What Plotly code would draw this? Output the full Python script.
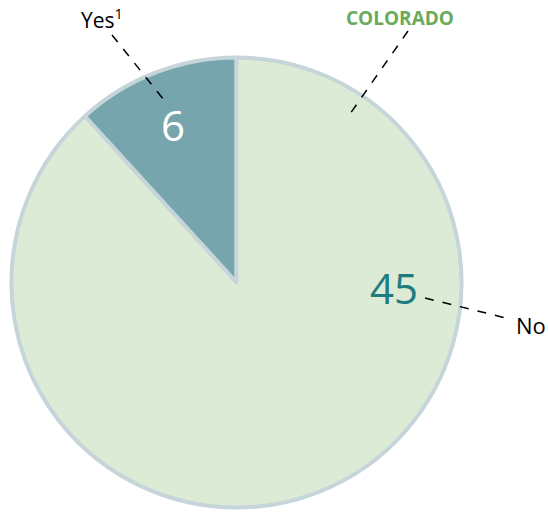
import plotly.graph_objects as go

labels = ["Yes", "No"]
values = [6, 45]
colors = ["#76a5ad", "#dcebd6"]
state = "COLORADO"

W, H = 548, 512

def px(x):
    return x / W

def py(y):
    return 1 - y / H

cx, cy, r = 236.5, 282.5, 225

# start "Yes" so that it ends exactly at 12 o'clock, sitting to its left
yes_angle = 360 * values[0] / sum(values)

fig = go.Figure(go.Pie(
    labels=labels,
    values=values,
    sort=False,
    direction="clockwise",
    rotation=-yes_angle,
    marker=dict(colors=colors, line=dict(color="#c5d5da", width=4)),
    textinfo="none",
    hoverinfo="label+value",
    showlegend=False,
    domain=dict(x=[px(cx - r), px(cx + r)], y=[py(cy + r), py(cy - r)]),
))

font = "Open Sans, Noto Sans, sans-serif"
annotations = [
    dict(x=px(173), y=py(124), text=str(values[0]),
         font=dict(size=42, color="white", family=font)),
    dict(x=px(394), y=py(287), text=str(values[1]),
         font=dict(size=42, color="#1f7c80", family=font)),
    dict(x=px(102), y=py(18), text="Yes<sup>1</sup>",
         font=dict(size=21, color="black", family=font)),
    dict(x=px(531), y=py(325), text=labels[1],
         font=dict(size=22, color="black", family=font)),
    dict(x=px(400), y=py(18), text="<b>" + state + "</b>",
         font=dict(size=19, color="#6aaa5a", family=font)),
]
for a in annotations:
    a.update(xref="paper", yref="paper", showarrow=False,
             xanchor="center", yanchor="middle")

leaders = [
    ((112, 35), (164, 100)),
    ((408, 31), (350, 114)),
    ((425, 298), (506, 318)),
]
shapes = [
    dict(type="line", xref="paper", yref="paper",
         x0=px(a[0]), y0=py(a[1]), x1=px(b[0]), y1=py(b[1]),
         line=dict(color="black", width=1.5, dash="dash"))
    for a, b in leaders
]

fig.update_layout(
    width=W, height=H,
    margin=dict(l=0, r=0, t=0, b=0),
    paper_bgcolor="white",
    plot_bgcolor="white",
    annotations=annotations,
    shapes=shapes,
)

fig.write_html("out.html")
